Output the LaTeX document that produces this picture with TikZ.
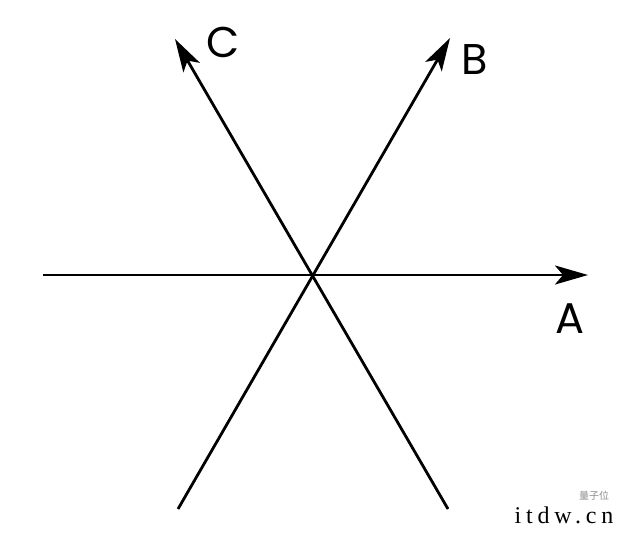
\documentclass[tikz,border=0pt]{standalone}
\usepackage{fontspec}
\setmainfont{Liberation Serif}
\newfontfamily\axisfont{Poppins}
\newfontfamily\markfont[LetterSpace=20]{Liberation Serif}
\newfontfamily\cjk{Noto Sans CJK SC}
\usepackage{tikz}
\usetikzlibrary{arrows.meta}

\begin{document}
\begin{tikzpicture}[x=1pt,y=-1pt,>={Stealth[length=33pt,width=19pt,inset=8pt]}]
  \useasboundingbox (0,0) rectangle (636,538);
  % ends of the three axes
  \coordinate (O) at (312,275);
  \coordinate (Aw) at (43,275);
  \coordinate (Ae) at (588,275);
  \coordinate (Bs) at (178,509);
  \coordinate (Bn) at (450,38);
  \coordinate (Cs) at (448,509);
  \coordinate (Cn) at (175,39);
  \draw[->, line width=2.8pt] (Aw) -- (Ae);
  \draw[->, line width=2.8pt] (Bs) -- (Bn);
  \draw[->, line width=2.8pt] (Cs) -- (Cn);
  \node[font=\axisfont\fontsize{43}{43}\selectfont,inner sep=0pt] (labA) at (570,319) {A};
  \node[font=\axisfont\fontsize{43}{43}\selectfont,inner sep=0pt] (labB) at (475,60) {B};
  \node[font=\axisfont\fontsize{43}{43}\selectfont,inner sep=0pt] (labC) at (223,42) {C};
  % watermark
  \node[font=\markfont\fontsize{24}{24}\selectfont,inner sep=0pt] (mark) at (564,515) {itdw.cn};
  \node[font=\cjk\fontsize{10}{10}\selectfont,text=black!45,inner sep=0pt] (markcn) at (594,496) {量子位};
\end{tikzpicture}
\end{document}
